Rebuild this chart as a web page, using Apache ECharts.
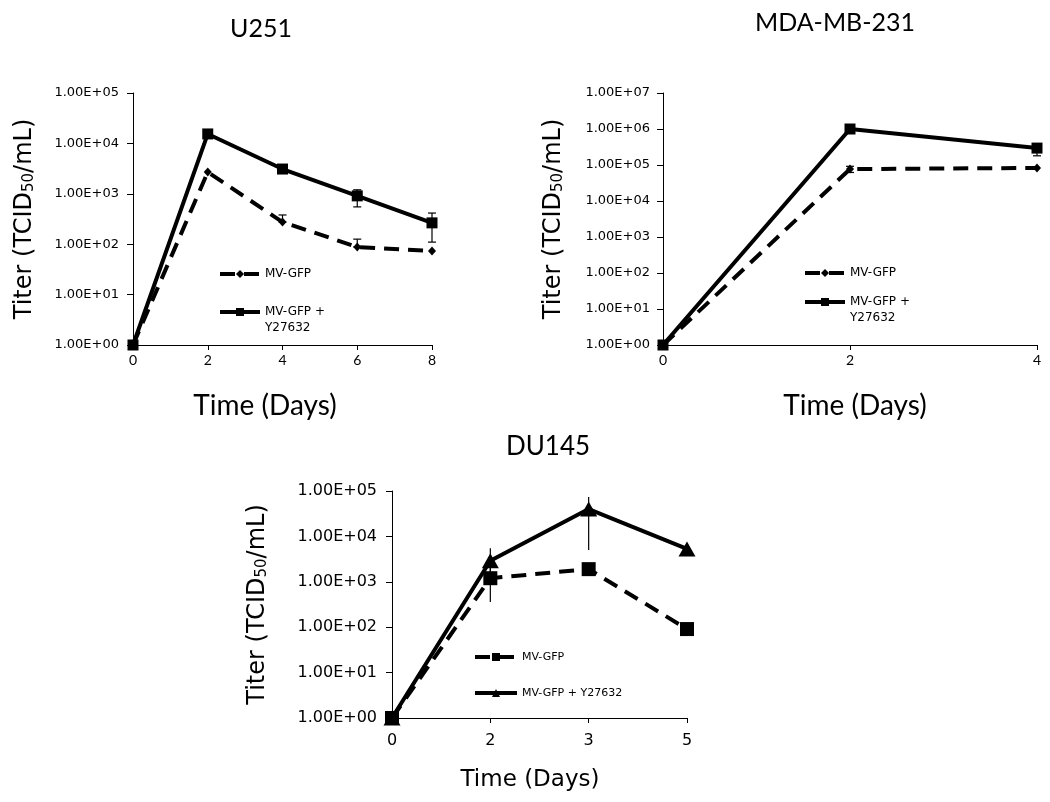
<!DOCTYPE html>
<html>
<head>
<meta charset="utf-8">
<script src="https://cdn.jsdelivr.net/npm/echarts@6/dist/echarts.min.js"></script>
<style>
html,body{margin:0;padding:0;background:#fff;}
#chart{width:1050px;height:802px;}
</style>
</head>
<body>
<div id="chart"></div>
<script>
// ---------------- DATA ----------------
const u251Days = [0, 2, 4, 6, 8];
const u251Gfp = [1, 2700, 275, 88, 73];
const u251Y = [1, 15400, 3100, 910, 265];
const u251GfpErrLow = [null, null, 275, 88, null];
const u251GfpErrHigh = [null, null, 380, 126, null];
const u251YErrLow = [null, null, null, 550, 110];
const u251YErrHigh = [null, null, null, 1200, 415];

const mdaDays = [0, 2, 4];
const mdaGfp = [1, 77000, 83000];
const mdaY = [1, 1000000, 295000];
const mdaGfpErrLow = [null, 62000, null];
const mdaGfpErrHigh = [null, 92000, null];
const mdaYErrLow = [null, null, 180000];
const mdaYErrHigh = [null, null, 390000];

const duDays = ['0', '2', '3', '5'];
const duGfp = [1, 1200, 1900, 91];
const duY = [1, 2900, 40000, 5300];
const duGfpErrLow = [null, 360, 1500, null];
const duGfpErrHigh = [null, 2000, 2400, null];
const duYErrLow = [null, 1500, 5000, null];
const duYErrHigh = [null, 5500, 74000, null];

const titles = ['U251', 'MDA-MB-231', 'DU145'];
const xName = 'Time (Days)';
const names = {
  u251: ['MV-GFP', 'MV-GFP +\nY27632'],
  mda: ['MV-GFP ', 'MV-GFP + \nY27632'],
  du: ['MV-GFP  ', 'MV-GFP + Y27632']
};

// ---------------- HELPERS ----------------
const SANS = "'DejaVu Sans', Verdana, sans-serif";
const CAL = "Lato, 'Liberation Sans', sans-serif";

function sci(v) {
  const e = Math.round(Math.log10(v));
  return '1.00E+' + (e < 10 ? '0' : '') + e;
}
function pairs(xs, ys) { return xs.map((x, i) => [x, ys[i]]); }
function errData(xs, lo, hi) {
  const out = [];
  xs.forEach((x, i) => { if (lo[i] != null && hi[i] != null) out.push([x, lo[i], hi[i]]); });
  return out;
}
function errRender(cap) {
  return function (params, api) {
    const x = api.value(0);
    const p1 = api.coord([x, api.value(1)]);
    const p2 = api.coord([x, api.value(2)]);
    const st = { stroke: '#000', lineWidth: 1.2 };
    const ch = [{ type: 'line', shape: { x1: p1[0], y1: p1[1], x2: p2[0], y2: p2[1] }, style: st }];
    if (cap) {
      ch.push({ type: 'line', shape: { x1: p1[0] - 4, y1: p1[1], x2: p1[0] + 4, y2: p1[1] }, style: st });
      ch.push({ type: 'line', shape: { x1: p2[0] - 4, y1: p2[1], x2: p2[0] + 4, y2: p2[1] }, style: st });
    }
    return { type: 'group', children: ch };
  };
}
function yAxisCfg(idx, maxExp, labelSize, labelMargin, nameGap) {
  return {
    type: 'log', logBase: 10, gridIndex: idx, min: 1, max: Math.pow(10, maxExp), splitNumber: maxExp,
    axisLine: { show: true, lineStyle: { color: '#000', width: 1 } },
    axisTick: { show: true, inside: false, length: 6, lineStyle: { color: '#000' } },
    splitLine: { show: false },
    minorTick: { show: false },
    axisLabel: { formatter: sci, color: '#000', fontFamily: SANS, fontSize: labelSize, margin: labelMargin },
    name: '{a|Titer (TCID}{b|50}{a|/mL)}',
    nameLocation: 'middle', nameRotate: 90, nameGap: nameGap,
    nameTextStyle: {
      rich: {
        a: { fontFamily: SANS, fontSize: 24, color: '#000' },
        b: { fontFamily: SANS, fontSize: 15, color: '#000', verticalAlign: 'bottom' }
      }
    }
  };
}
function legendCfg(list, left, top, gap, fontSize, itemWidth) {
  return {
    data: list,
    // a two-line label gets an empty leading line so its first line sits on the icon
    formatter: n => (n.indexOf('\n') >= 0 ? '\n' + n : n),
    orient: 'vertical', left: left, top: top, padding: 0, itemGap: gap,
    itemWidth: itemWidth, itemHeight: 10, selectedMode: false,
    lineStyle: { width: 4 },
    textStyle: { color: '#000', fontFamily: SANS, fontSize: fontSize, lineHeight: 16 }
  };
}
const lineW = 4;
const dash = [15, 9];

const option = {
  animation: false,
  backgroundColor: '#fff',
  grid: [
    { left: 133, top: 93, width: 299, height: 252 },
    { left: 663, top: 93, width: 374, height: 252 },
    { left: 392, top: 491, width: 295, height: 227 }
  ],
  xAxis: [
    {
      type: 'value', gridIndex: 0, min: 0, max: 8, interval: 2,
      axisLine: { lineStyle: { color: '#000' } },
      axisTick: { show: true, length: 5, lineStyle: { color: '#000' } },
      splitLine: { show: false },
      axisLabel: { color: '#000', fontFamily: CAL, fontSize: 14, margin: 8 }
    },
    {
      type: 'value', gridIndex: 1, min: 0, max: 4, interval: 2,
      axisLine: { lineStyle: { color: '#000' } },
      axisTick: { show: true, length: 5, lineStyle: { color: '#000' } },
      splitLine: { show: false },
      axisLabel: { color: '#000', fontFamily: CAL, fontSize: 14, margin: 8 }
    },
    {
      type: 'category', gridIndex: 2, data: duDays, boundaryGap: false,
      axisLine: { lineStyle: { color: '#000' } },
      axisTick: { show: true, length: 5, alignWithLabel: true, lineStyle: { color: '#000' } },
      splitLine: { show: false },
      axisLabel: { color: '#000', fontFamily: SANS, fontSize: 16, margin: 15 }
    }
  ],
  yAxis: [
    yAxisCfg(0, 5, 13, 14, 96),
    yAxisCfg(1, 7, 13, 13, 97),
    yAxisCfg(2, 5, 16, 15, 122)
  ],
  legend: [
    legendCfg(names.u251, 218, 266, 6, 12, 40),
    legendCfg(names.mda, 803, 265, -3, 12, 40),
    legendCfg(names.du, 473, 649, 20, 11, 42)
  ],
  series: [
    // U251
    { type: 'line', name: names.u251[0], xAxisIndex: 0, yAxisIndex: 0, data: pairs(u251Days, u251Gfp),
      symbol: 'diamond', symbolSize: [8, 9], itemStyle: { color: '#000' },
      lineStyle: { color: '#000', width: lineW, type: dash }, z: 2 },
    { type: 'line', name: names.u251[1], xAxisIndex: 0, yAxisIndex: 0, data: pairs(u251Days, u251Y),
      symbol: 'rect', symbolSize: 11, itemStyle: { color: '#000' },
      lineStyle: { color: '#000', width: lineW, type: 'solid' }, z: 3 },
    { type: 'custom', name: 'errA', xAxisIndex: 0, yAxisIndex: 0, renderItem: errRender(true),
      data: errData(u251Days, u251GfpErrLow, u251GfpErrHigh), z: 4 },
    { type: 'custom', name: 'errB', xAxisIndex: 0, yAxisIndex: 0, renderItem: errRender(true),
      data: errData(u251Days, u251YErrLow, u251YErrHigh), z: 4 },
    // MDA-MB-231
    { type: 'line', name: names.mda[0], xAxisIndex: 1, yAxisIndex: 1, data: pairs(mdaDays, mdaGfp),
      symbol: 'diamond', symbolSize: [8, 9], itemStyle: { color: '#000' },
      lineStyle: { color: '#000', width: lineW, type: dash }, z: 2 },
    { type: 'line', name: names.mda[1], xAxisIndex: 1, yAxisIndex: 1, data: pairs(mdaDays, mdaY),
      symbol: 'rect', symbolSize: 11, itemStyle: { color: '#000' },
      lineStyle: { color: '#000', width: lineW, type: 'solid' }, z: 3 },
    { type: 'custom', name: 'errC', xAxisIndex: 1, yAxisIndex: 1, renderItem: errRender(true),
      data: errData(mdaDays, mdaGfpErrLow, mdaGfpErrHigh), z: 4 },
    { type: 'custom', name: 'errD', xAxisIndex: 1, yAxisIndex: 1, renderItem: errRender(true),
      data: errData(mdaDays, mdaYErrLow, mdaYErrHigh), z: 4 },
    // DU145
    { type: 'line', name: names.du[0], xAxisIndex: 2, yAxisIndex: 2, data: duGfp,
      symbol: 'rect', symbolSize: 14, itemStyle: { color: '#000' },
      lineStyle: { color: '#000', width: lineW, type: dash }, z: 2 },
    { type: 'line', name: names.du[1], xAxisIndex: 2, yAxisIndex: 2, data: duY,
      symbol: 'triangle', symbolSize: [17, 15], itemStyle: { color: '#000' },
      lineStyle: { color: '#000', width: lineW, type: 'solid' }, z: 3 },
    { type: 'custom', name: 'errE', xAxisIndex: 2, yAxisIndex: 2, renderItem: errRender(false),
      data: errData([0, 1, 2, 3], duGfpErrLow, duGfpErrHigh), z: 4 },
    { type: 'custom', name: 'errF', xAxisIndex: 2, yAxisIndex: 2, renderItem: errRender(false),
      data: errData([0, 1, 2, 3], duYErrLow, duYErrHigh), z: 4 }
  ],
  graphic: [
    { type: 'text', x: 261, y: 29, style: { text: titles[0], font: '25px ' + CAL, fill: '#000', align: 'center', verticalAlign: 'middle' } },
    { type: 'text', x: 835, y: 23, style: { text: titles[1], font: '25px ' + CAL, fill: '#000', align: 'center', verticalAlign: 'middle' } },
    { type: 'text', x: 548, y: 447, style: { text: titles[2], font: '26px ' + CAL, fill: '#000', align: 'center', verticalAlign: 'middle' } },
    { type: 'text', x: 265, y: 406, style: { text: xName, font: '28px ' + CAL, fill: '#000', align: 'center', verticalAlign: 'middle' } },
    { type: 'text', x: 855, y: 406, style: { text: xName, font: '28px ' + CAL, fill: '#000', align: 'center', verticalAlign: 'middle' } },
    { type: 'text', x: 530, y: 780, style: { text: xName, font: '23px ' + SANS, fill: '#000', align: 'center', verticalAlign: 'middle' } }
  ]
};

const chart = echarts.init(document.getElementById('chart'), null, { renderer: 'canvas' });
chart.setOption(option);
</script>
</body>
</html>
